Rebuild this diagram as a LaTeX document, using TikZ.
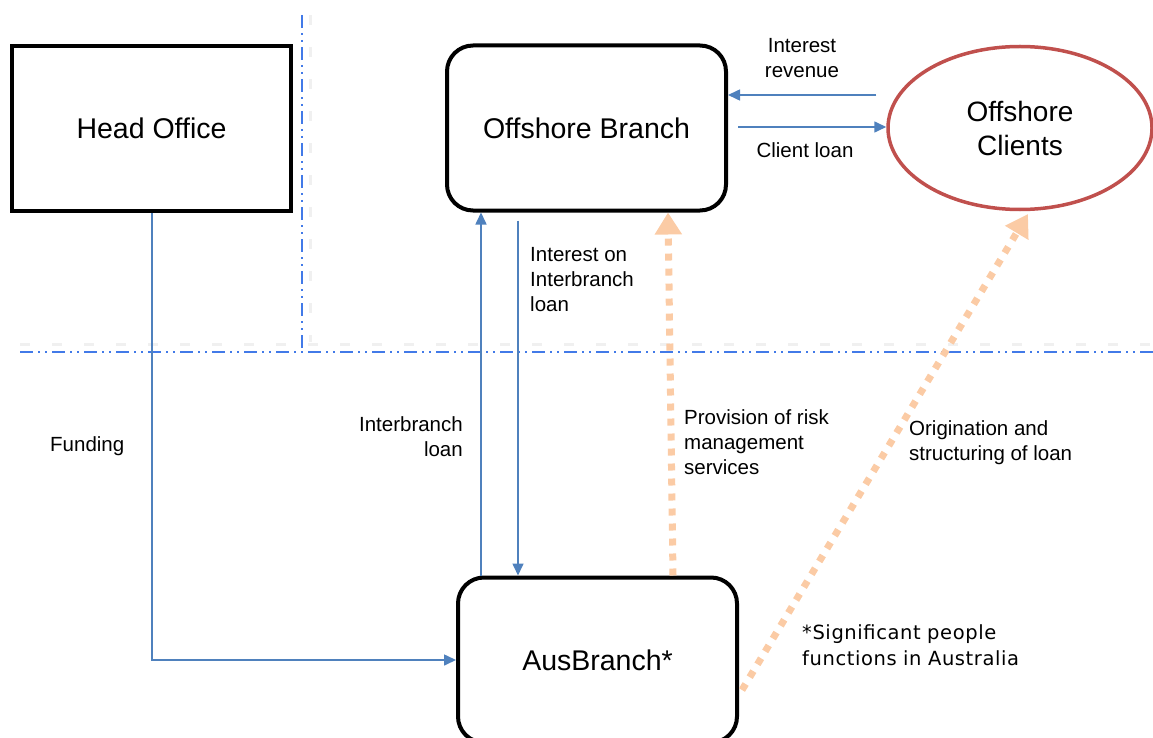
\documentclass[tikz,border=0pt]{standalone}
\usepackage{fontspec}
\setmainfont{Liberation Sans}
\newfontfamily\notefont{DejaVu Sans}
\usetikzlibrary{arrows.meta,shapes.geometric,calc}
\definecolor{arrowblue}{RGB}{79,129,189}
\definecolor{lineblue}{RGB}{66,122,232}
\definecolor{peach}{RGB}{251,203,165}
\definecolor{clientred}{RGB}{192,80,77}
\tikzset{
  sqbox/.style={draw=black, line width=4pt, fill=white, minimum width=279pt, minimum height=165pt, inner sep=0pt, font=\fontsize{28.5}{32}\selectfont},
  rbox/.style={sqbox, rounded corners=26pt},
  clientell/.style={ellipse, draw=clientred, line width=3.5pt, minimum width=264pt, minimum height=163pt, inner sep=0pt, align=center, font=\fontsize{28}{34}\selectfont},
  barrow/.style={draw=arrowblue, line width=1.6pt, -{Triangle[length=12pt,width=11pt]}},
  parrow/.style={draw=peach, line width=7pt, dash pattern=on 7pt off 8pt, -{Triangle[length=22pt,width=26pt]}},
  sepline/.style={draw=lineblue, line width=2pt, dash pattern=on 13pt off 5pt on 2pt off 5pt on 2pt off 5pt},
  sepshadow/.style={draw=black!6, line width=3pt, dash pattern=on 10pt off 22pt},
  lbl/.style={inner sep=0pt, font=\fontsize{20.5}{25}\selectfont},
  notelbl/.style={inner sep=0pt, font=\notefont\fontsize{19.5}{26}\selectfont, text width=230pt}
}
\begin{document}
\begin{tikzpicture}[x=1pt,y=-1pt]
\useasboundingbox (0,0) rectangle (1153,738);
\clip (0,0) rectangle (1153,738);

% separator lines
\coordinate (vtop) at (302,15);
\coordinate (vbot) at (302,352);
\coordinate (hl) at (20,352);
\coordinate (hr) at (1153,352);
\draw[sepshadow] ($(vtop)+(8,0)$) -- ($(vbot)+(8,-10)$);
\draw[sepshadow] ($(hl)+(0,-8)$) -- ($(hr)+(0,-8)$);
\draw[sepline] (vtop) -- (vbot);
\draw[sepline] (hl) -- (hr);

% nodes
\node[sqbox] (ho) at (151.5,128.5) {Head Office};
\node[rbox] (ob) at (586.5,128) {Offshore Branch};
\node[rbox] (aus) at (597.5,660) {AusBranch*};
\node[clientell] (oc) at (1020,128) {Offshore\\Clients};

% helper coordinates
\coordinate (x152) at (152,0);
\coordinate (x481) at (481,0);
\coordinate (x518) at (518,0);
\coordinate (x668) at (668,0);
\coordinate (x673) at (673,0);
\coordinate (y95) at (0,95);
\coordinate (y127) at (0,127);
\coordinate (origin) at (742,690);
\coordinate (oend) at (1028,214);

% blue arrows
\draw[barrow] (ho.south -| x152) |- (aus.west);
\draw[barrow] (aus.north -| x481) -- (ob.south -| x481);
\draw[barrow, shorten <=8pt] (ob.south -| x518) -- (aus.north -| x518);
\draw[barrow, shorten <=10pt] (oc.west |- y95) -- (ob.east |- y95);
\draw[barrow, shorten <=10pt] (ob.east |- y127) -- (oc.west |- y127);

% peach arrows
\draw[parrow] (aus.north -| x673) -- (ob.south -| x668);
\draw[parrow] (origin) -- (oend);

% labels
\node[lbl, anchor=west] (lfund) at (50,446) {Funding};
\node[lbl, anchor=east, align=right] (lib) at (463,437) {Interbranch\\loan};
\node[lbl, anchor=west, align=left] (lint) at (530,280) {Interest on\\Interbranch\\loan};
\node[lbl, align=center] (lrev) at (802,58) {Interest\\revenue};
\node[lbl] (lcl) at (805,150) {Client loan};
\node[lbl, anchor=west, align=left] (lprov) at (684,442) {Provision of risk\\management\\services};
\node[lbl, anchor=west, align=left] (lorig) at (909,443) {Origination and\\structuring of loan};
\node[notelbl, anchor=west, align=left] (lsig) at (802,645) {\addfontfeatures{LetterSpace=3}*Significant people\\functions in Australia};
\end{tikzpicture}
\end{document}
